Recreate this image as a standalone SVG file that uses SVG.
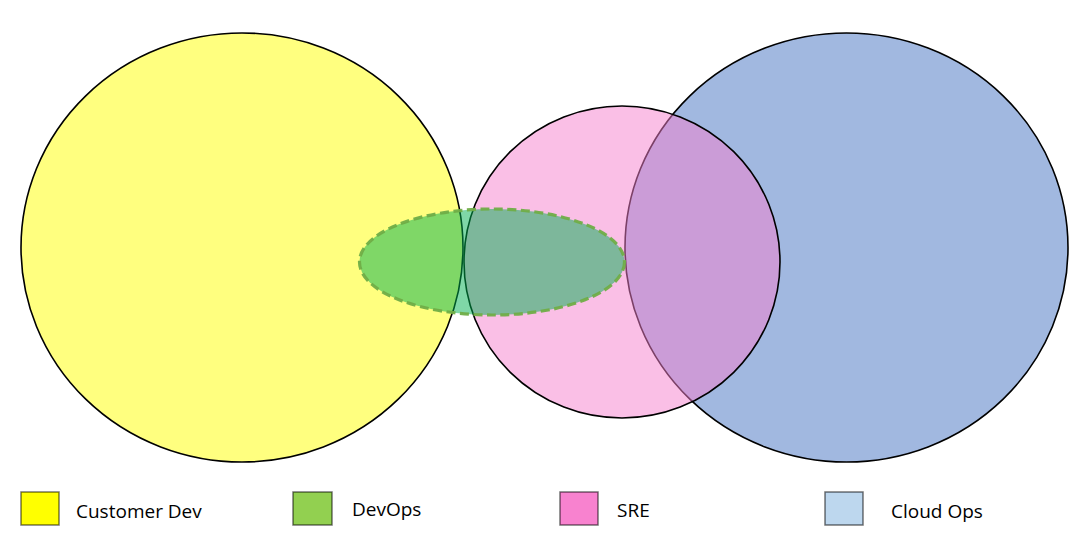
<svg xmlns="http://www.w3.org/2000/svg" width="1085" height="545" viewBox="0 0 1085 545">
<style>
.set{stroke:#000;stroke-width:1.6}
.sw{stroke:#000;stroke-opacity:0.55;stroke-width:1.5}
.lbl{font-family:"Open Sans","Liberation Sans",Arial,sans-serif;font-size:19px;fill:#000}
</style>
<rect width="1085" height="545" fill="#fff"/>
<g id="cloud-ops">
<ellipse class="set" cx="846.5" cy="247.5" rx="221.5" ry="214.5" fill="#A1B8E0"/>
</g>
<g id="sre">
<ellipse cx="622" cy="262" rx="158" ry="156" fill="#F57FCD" fill-opacity="0.5" stroke="#000" stroke-width="1.6"/>
</g>
<g id="customer-dev">
<ellipse cx="242" cy="247.5" rx="221" ry="214.5" fill="#FFFF00" fill-opacity="0.5" stroke="#000" stroke-width="1.6"/>
</g>
<g id="devops">
<ellipse cx="492" cy="262" rx="132.5" ry="53" fill="#00B050" fill-opacity="0.5" stroke="#70AD47" stroke-opacity="0.95" stroke-width="3.2" stroke-dasharray="9,4.5"/>
</g>
<g id="legend">
<g id="legend-customer-dev">
<rect class="sw" x="21" y="492" width="38" height="33" fill="#FFFF00"/>
<text class="lbl" x="76" y="518">Customer Dev</text>
</g>
<g id="legend-devops">
<rect class="sw" x="293" y="492" width="39" height="33" fill="#92D050"/>
<text class="lbl" x="352" y="516">DevOps</text>
</g>
<g id="legend-sre">
<rect class="sw" x="560" y="492" width="38" height="33" fill="#F882CF"/>
<text class="lbl" x="617" y="517">SRE</text>
</g>
<g id="legend-cloud-ops">
<rect class="sw" x="825" y="492" width="38" height="33" fill="#BDD7EE"/>
<text class="lbl" x="891" y="518">Cloud Ops</text>
</g>
</g>
<g id="connectors"/>
</svg>
